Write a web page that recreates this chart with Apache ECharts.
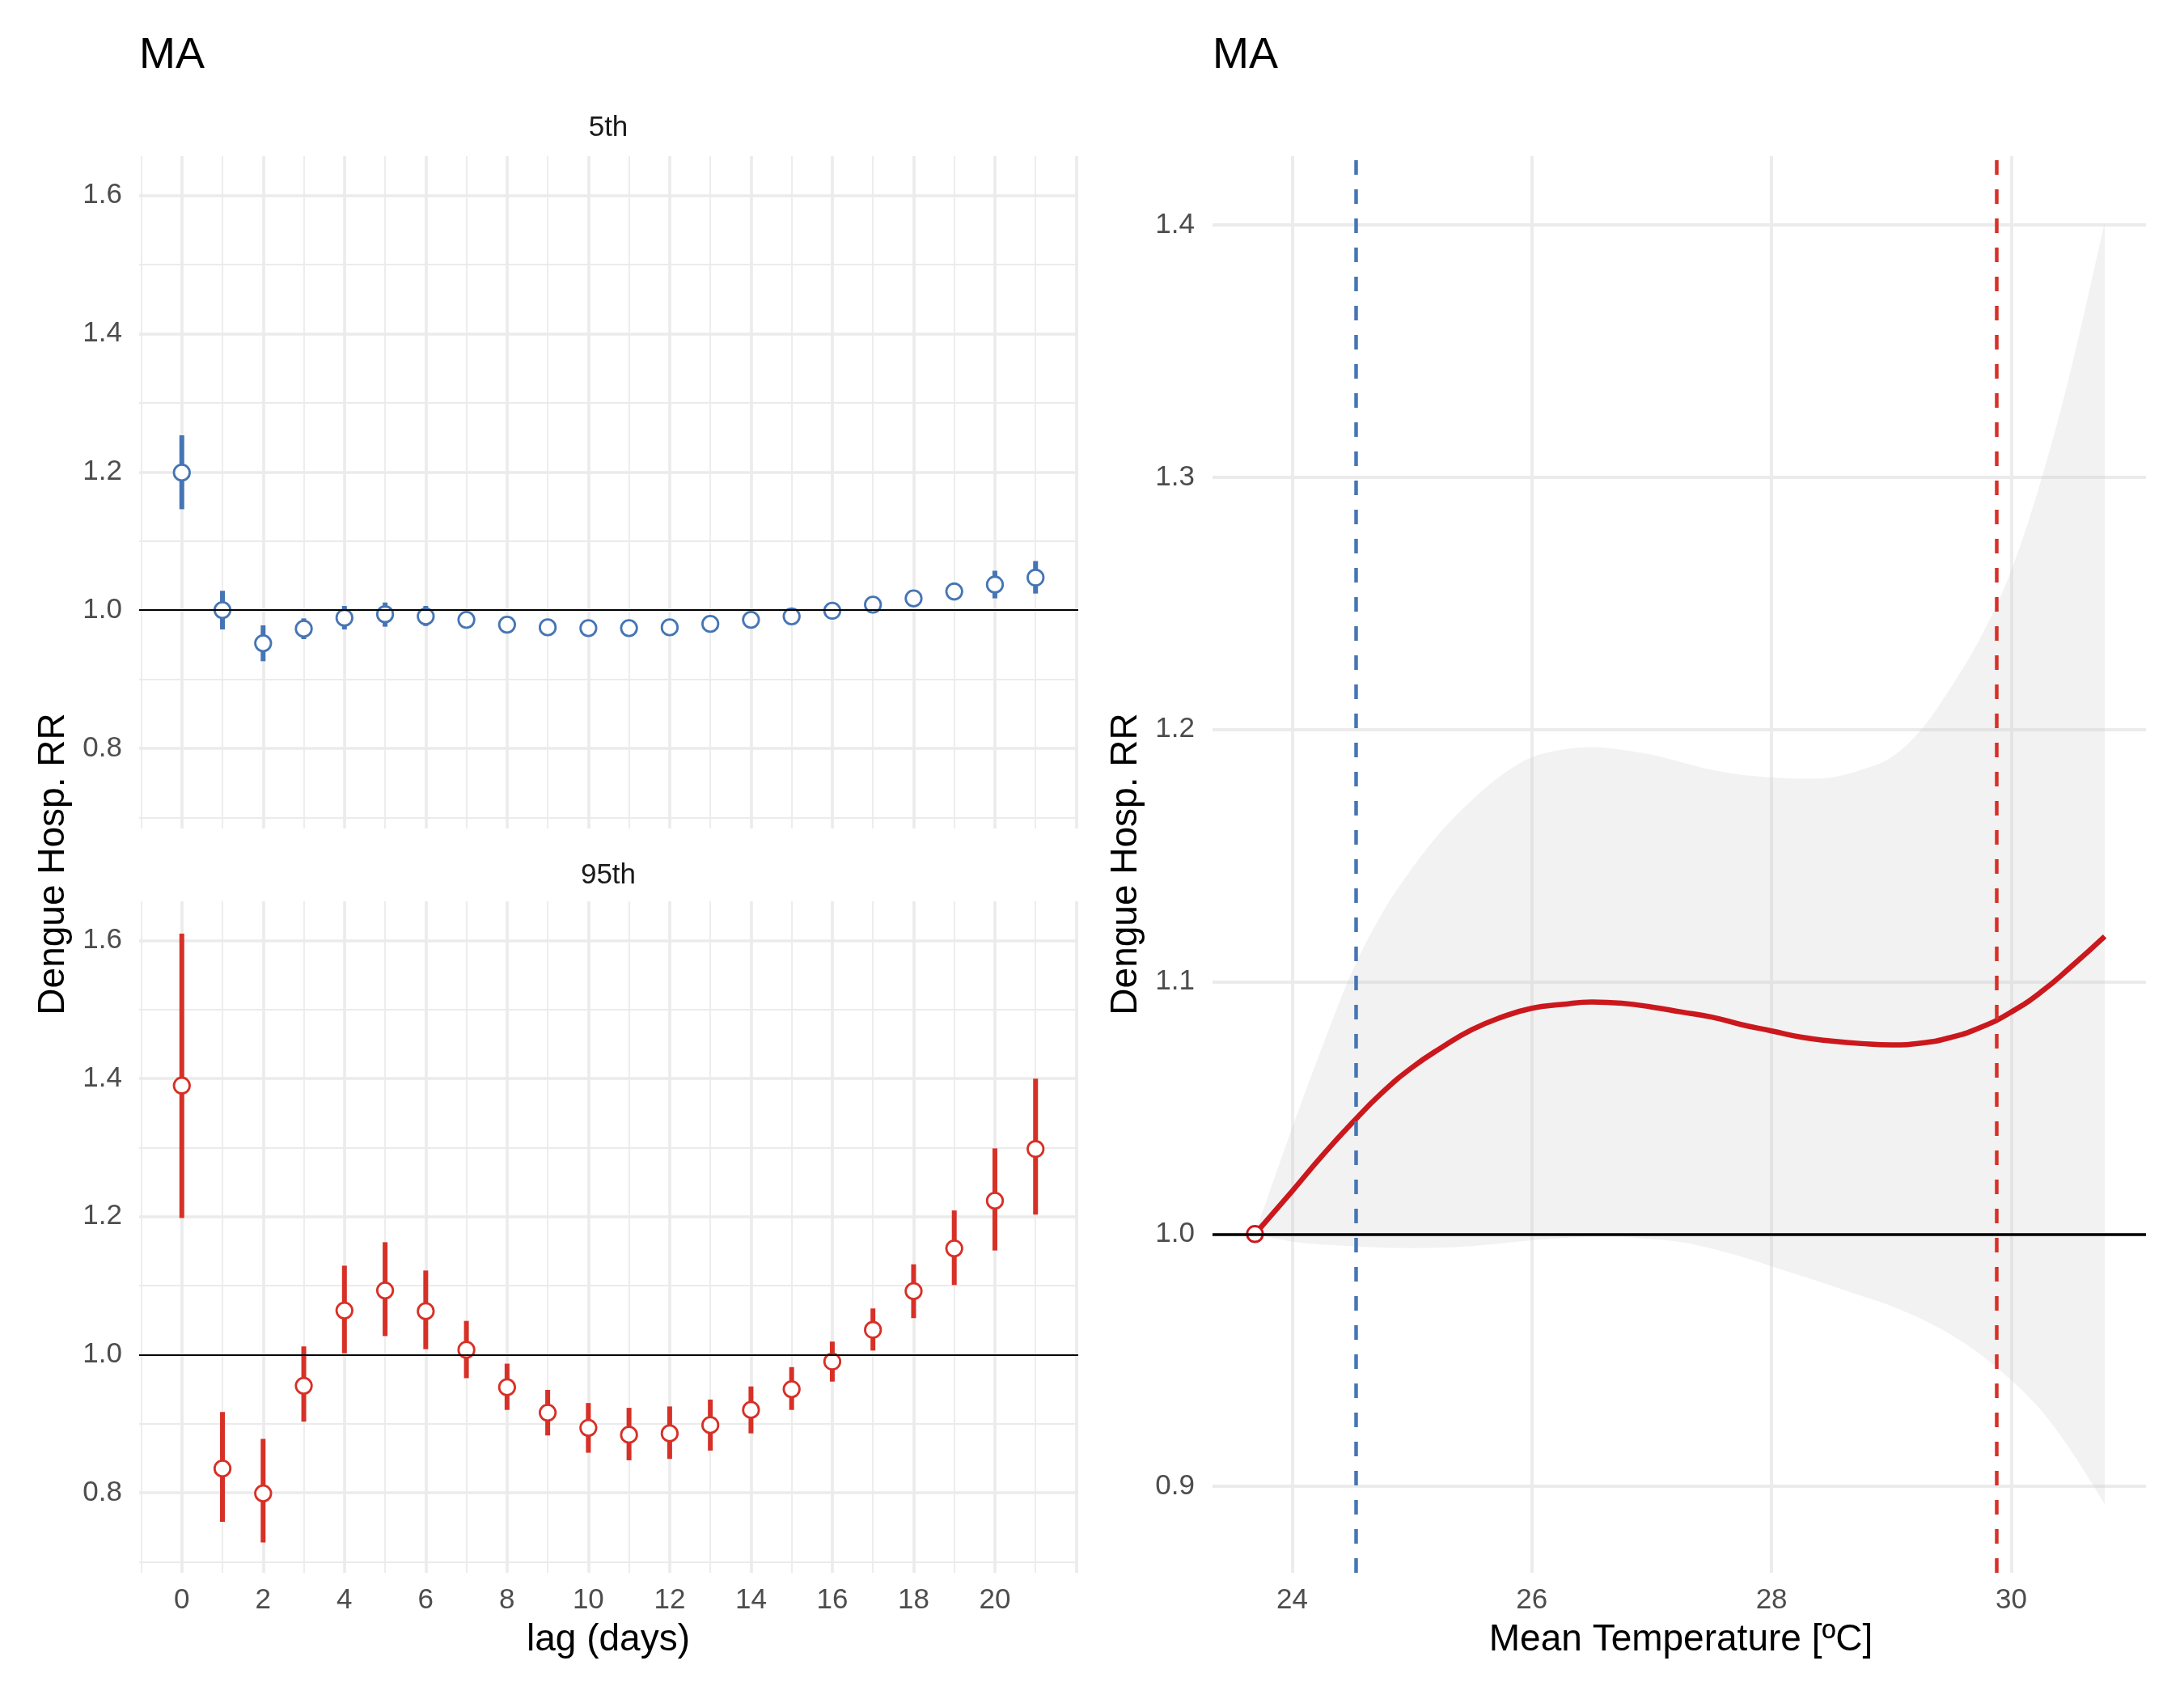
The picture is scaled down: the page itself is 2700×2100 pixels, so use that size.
<!DOCTYPE html>
<html lang="en">
<head>
<meta charset="UTF-8">
<title>MA - Dengue Hosp. RR</title>
<script src="https://cdn.jsdelivr.net/npm/echarts@6/dist/echarts.min.js"></script>
<style>
    html, body { margin: 0; padding: 0; background: #fff; }
    #chart { width: 2700px; height: 2100px; }
</style>
</head>
<body>
<div id="chart"></div>
<script>
// lag-response at the 5th and 95th temperature percentiles
const lags = [0, 1, 2, 3, 4, 5, 6, 7, 8, 9, 10, 11, 12, 13, 14, 15, 16, 17, 18, 19, 20, 21];
const lagTicks = [0, 2, 4, 6, 8, 10, 12, 14, 16, 18, 20];

const rr5     = [1.199, 1.000, 0.952, 0.973, 0.989, 0.994, 0.991, 0.986, 0.979, 0.975, 0.974, 0.974, 0.975, 0.980, 0.986, 0.991, 0.999, 1.008, 1.017, 1.027, 1.037, 1.047];
const rr5Low  = [1.146, 0.972, 0.926, 0.958, 0.972, 0.976, 0.977, 0.979, 0.974, 0.970, 0.969, 0.969, 0.970, 0.975, 0.980, 0.984, 0.992, 1.000, 1.007, 1.014, 1.017, 1.024];
const rr5High = [1.253, 1.028, 0.978, 0.988, 1.006, 1.011, 1.006, 0.993, 0.984, 0.980, 0.979, 0.979, 0.980, 0.985, 0.992, 0.998, 1.006, 1.015, 1.027, 1.040, 1.057, 1.071];

const rr95     = [1.390, 0.835, 0.799, 0.955, 1.064, 1.093, 1.063, 1.007, 0.953, 0.916, 0.894, 0.884, 0.886, 0.898, 0.920, 0.950, 0.990, 1.036, 1.092, 1.154, 1.223, 1.298];
const rr95Low  = [1.198, 0.758, 0.728, 0.903, 1.002, 1.027, 1.008, 0.966, 0.920, 0.883, 0.858, 0.847, 0.849, 0.861, 0.886, 0.920, 0.961, 1.006, 1.053, 1.101, 1.151, 1.203];
const rr95High = [1.610, 0.917, 0.878, 1.012, 1.129, 1.163, 1.122, 1.049, 0.987, 0.949, 0.930, 0.923, 0.925, 0.935, 0.954, 0.982, 1.019, 1.067, 1.131, 1.209, 1.299, 1.400];

// cumulative exposure-response over mean temperature
const temps      = [23.69, 24.0, 24.25, 24.5, 24.75, 25.0, 25.25, 25.5, 25.75, 26.0, 26.25, 26.5, 26.75, 27.0,
                    27.25, 27.5, 27.75, 28.0, 28.25, 28.5, 28.75, 29.0, 29.25, 29.5, 29.75, 30.0, 30.25, 30.5, 30.78];
const rrTemp     = [1.000, 1.017, 1.031, 1.044, 1.056, 1.066, 1.074, 1.081, 1.086, 1.0895, 1.091, 1.092, 1.0915, 1.090,
                    1.088, 1.086, 1.083, 1.0805, 1.078, 1.0765, 1.0755, 1.075, 1.0757, 1.078, 1.082, 1.088, 1.096, 1.106, 1.118];
const rrTempLow  = [1.000, 0.997, 0.9958, 0.9952, 0.9946, 0.9944, 0.9946, 0.9952, 0.9963, 0.9975, 0.9984, 0.9989, 0.9989, 0.998,
                    0.9968, 0.9942, 0.991, 0.9872, 0.9834, 0.9795, 0.9755, 0.9715, 0.9663, 0.960, 0.952, 0.942, 0.930, 0.914, 0.893];
const rrTempHigh = [1.000, 1.042, 1.074, 1.104, 1.127, 1.145, 1.160, 1.172, 1.182, 1.189, 1.192, 1.193, 1.192, 1.190,
                    1.187, 1.184, 1.182, 1.181, 1.1805, 1.181, 1.184, 1.189, 1.200, 1.217, 1.237, 1.263, 1.299, 1.343, 1.401];
const tempTicks  = [24, 26, 28, 30];

const refTemp = 23.69;   // reference (RR = 1)
const p5Temp  = 24.53;   // 5th percentile
const p95Temp = 29.88;   // 95th percentile

const chart = echarts.init(document.getElementById('chart'));

const font = 'Liberation Sans';
const gridColor = '#EBEBEB';
const blue = '#4575B4';
const red = '#D73027';
const curveRed = '#CB181D';

function isNear(v, step) {
    const k = Math.round(v / step);
    return Math.abs(v - k * step) < 1e-6;
}

// Catmull-Rom through pixel points, as cubic bezier segments
function curveTo(pts) {
    let d = '';
    for (let i = 0; i < pts.length - 1; i++) {
        const p0 = pts[Math.max(i - 1, 0)], p1 = pts[i], p2 = pts[i + 1], p3 = pts[Math.min(i + 2, pts.length - 1)];
        const c1x = p1[0] + (p2[0] - p0[0]) / 6, c1y = p1[1] + (p2[1] - p0[1]) / 6;
        const c2x = p2[0] - (p3[0] - p1[0]) / 6, c2y = p2[1] - (p3[1] - p1[1]) / 6;
        d += ' C' + c1x + ',' + c1y + ' ' + c2x + ',' + c2y + ' ' + p2[0] + ',' + p2[1];
    }
    return d;
}

function lagAxis(gridIndex, showLabels) {
    return {
        type: 'value', gridIndex: gridIndex,
        min: -1.05, max: 22.05, splitNumber: 11, minInterval: 2, maxInterval: 2,
        axisLine: { show: false }, axisTick: { show: false },
        axisLabel: {
            show: showLabels, margin: 17, fontSize: 35, color: '#4D4D4D', fontFamily: font,
            formatter: v => (isNear(v, 1) && lagTicks.includes(Math.round(v))) ? String(Math.round(v)) : ''
        },
        splitLine: { show: true, showMinLine: false, showMaxLine: false, lineStyle: { color: gridColor, width: 3.6 } },
        minorTick: { show: false, splitNumber: 2 },
        minorSplitLine: { show: true, lineStyle: { color: gridColor, width: 1.8 } }
    };
}

function rrAxis(gridIndex) {
    return {
        type: 'value', gridIndex: gridIndex,
        min: 0.684, max: 1.657, splitNumber: 5, minInterval: 0.2, maxInterval: 0.2,
        axisLine: { show: false }, axisTick: { show: false },
        axisLabel: {
            margin: 21, fontSize: 35, color: '#4D4D4D', fontFamily: font,
            formatter: v => isNear(v, 0.1) ? v.toFixed(1) : ''
        },
        splitLine: { show: true, showMinLine: false, showMaxLine: false, lineStyle: { color: gridColor, width: 3.6 } },
        minorTick: { show: false, splitNumber: 2 },
        minorSplitLine: { show: true, lineStyle: { color: gridColor, width: 1.8 } }
    };
}

function refLine(axisIndex) {
    return {
        type: 'line', xAxisIndex: axisIndex, yAxisIndex: axisIndex, data: [], z: 1,
        markLine: {
            silent: true, symbol: ['none', 'none'], label: { show: false },
            lineStyle: { color: '#000', width: 2.2, type: 'solid' },
            data: [{ yAxis: 1 }]
        }
    };
}

function errorBars(axisIndex, lows, highs, color) {
    return {
        type: 'custom', xAxisIndex: axisIndex, yAxisIndex: axisIndex, z: 3, silent: true,
        data: lags.map((l, i) => [l, lows[i], highs[i]]),
        encode: { x: 0, y: [1, 2] },
        renderItem: (params, api) => {
            const a = api.coord([api.value(0), api.value(1)]);
            const b = api.coord([api.value(0), api.value(2)]);
            return {
                type: 'line',
                shape: { x1: a[0], y1: a[1], x2: b[0], y2: b[1] },
                style: { stroke: color, lineWidth: 6, lineCap: 'butt' }
            };
        }
    };
}

function points(axisIndex, values, color) {
    return {
        type: 'scatter', xAxisIndex: axisIndex, yAxisIndex: axisIndex, z: 4, silent: true,
        symbol: 'circle', symbolSize: 19.5,
        data: lags.map((l, i) => [l, values[i]]),
        itemStyle: { color: '#fff', borderColor: color, borderWidth: 2.8, opacity: 1 }
    };
}

function label(text, x, y, size, color, opts) {
    opts = opts || {};
    const align = opts.align || 'center';
    return {
        type: 'text', x: x, y: y, rotation: opts.rotate ? Math.PI / 2 : 0, silent: true,
        style: {
            text: text, fontSize: size, fontFamily: font, fill: color,
            align: align, textAlign: align,
            verticalAlign: 'middle', textVerticalAlign: 'middle'
        }
    };
}

const option = {
    animation: false,
    backgroundColor: '#fff',
    textStyle: { fontFamily: font },
    grid: [
        { left: 172, top: 193, width: 1161, height: 831 },
        { left: 172, top: 1114, width: 1161, height: 830 },
        { left: 1499, top: 193, width: 1154, height: 1751 }
    ],
    xAxis: [
        lagAxis(0, false),
        lagAxis(1, true),
        {
            type: 'value', gridIndex: 2,
            min: 23.336, max: 31.124, splitNumber: 4, minInterval: 2, maxInterval: 2,
            axisLine: { show: false }, axisTick: { show: false },
            axisLabel: {
                margin: 17, fontSize: 35, color: '#4D4D4D', fontFamily: font,
                formatter: v => (isNear(v, 1) && tempTicks.includes(Math.round(v))) ? String(Math.round(v)) : ''
            },
            splitLine: { show: true, showMinLine: false, showMaxLine: false, lineStyle: { color: gridColor, width: 3.8 } }
        }
    ],
    yAxis: [
        rrAxis(0),
        rrAxis(1),
        {
            type: 'value', gridIndex: 2,
            min: 0.8657, max: 1.4273, splitNumber: 6, minInterval: 0.1, maxInterval: 0.1,
            axisLine: { show: false }, axisTick: { show: false },
            axisLabel: {
                margin: 22, fontSize: 35, color: '#4D4D4D', fontFamily: font,
                formatter: v => isNear(v, 0.1) ? v.toFixed(1) : ''
            },
            splitLine: { show: true, showMinLine: false, showMaxLine: false, lineStyle: { color: gridColor, width: 3.8 } }
        }
    ],
    series: [
        // lag panels
        refLine(0),
        errorBars(0, rr5Low, rr5High, blue),
        points(0, rr5, blue),
        refLine(1),
        errorBars(1, rr95Low, rr95High, red),
        points(1, rr95, red),

        // temperature panel: reference + percentile lines
        {
            type: 'line', xAxisIndex: 2, yAxisIndex: 2, data: [], z: 1,
            markLine: {
                silent: true, symbol: ['none', 'none'], label: { show: false },
                data: [
                    { yAxis: 1, lineStyle: { color: '#000', width: 3.5, type: 'solid' } },
                    { xAxis: p5Temp, lineStyle: { color: blue, width: 4.5, type: [18, 18] } },
                    { xAxis: p95Temp, lineStyle: { color: red, width: 4.5, type: [18, 18] } }
                ]
            }
        },
        // confidence band, one closed shape drawn from all rows
        {
            type: 'custom', xAxisIndex: 2, yAxisIndex: 2, z: 2, silent: true,
            data: temps.map((t, i) => [t, rrTempLow[i], rrTempHigh[i]]),
            encode: { x: 0, y: [1, 2] },
            renderItem: (params, api) => {
                if (params.dataIndex !== 0) return null;
                const n = temps.length;
                const up = [], lo = [];
                for (let i = 0; i < n; i++) {
                    up.push(api.coord([api.value(0, i), api.value(2, i)]));
                    lo.push(api.coord([api.value(0, i), api.value(1, i)]));
                }
                lo.reverse();
                const d = 'M' + up[0][0] + ',' + up[0][1] + curveTo(up) +
                    ' L' + lo[0][0] + ',' + lo[0][1] + curveTo(lo) + ' Z';
                return {
                    type: 'path',
                    shape: { pathData: d },
                    style: { fill: 'rgba(204,204,204,0.25)', stroke: null }
                };
            }
        },
        {
            type: 'line', xAxisIndex: 2, yAxisIndex: 2, smooth: true, symbol: 'none', z: 3, silent: true,
            lineStyle: { color: curveRed, width: 6.5 },
            data: temps.map((t, i) => [t, rrTemp[i]])
        },
        {
            type: 'scatter', xAxisIndex: 2, yAxisIndex: 2, z: 4, silent: true,
            symbol: 'circle', symbolSize: 19.5,
            data: [[refTemp, 1]],
            itemStyle: { color: '#fff', borderColor: curveRed, borderWidth: 2.8, opacity: 1 }
        }
    ],
    graphic: [
        label('MA', 172, 69, 54, '#000', { align: 'left' }),
        label('MA', 1499, 69, 54, '#000', { align: 'left' }),
        label('5th', 752, 158, 35, '#1A1A1A'),
        label('95th', 752, 1082, 35, '#1A1A1A'),
        label('lag (days)', 752, 2027, 46, '#000'),
        label('Mean Temperature [ºC]', 2078, 2027, 46, '#000'),
        label('Dengue Hosp. RR', 66, 1068, 46, '#000', { rotate: true }),
        label('Dengue Hosp. RR', 1392, 1068, 46, '#000', { rotate: true })
    ]
};

chart.setOption(option);

window.addEventListener('resize', function () {
    chart.resize();
});
</script>
</body>
</html>
